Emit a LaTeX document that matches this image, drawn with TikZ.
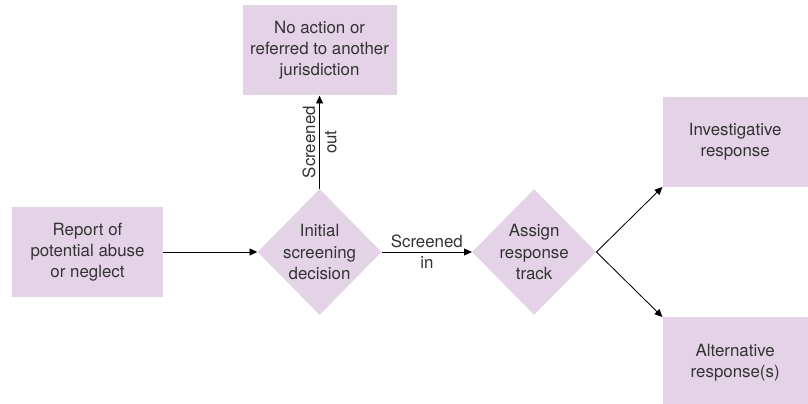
\documentclass[tikz,border=0pt]{standalone}
\usepackage{fontspec}
\setmainfont{TeX Gyre Heros}
\usetikzlibrary{positioning, shapes.geometric, arrows.meta}
\definecolor{boxlilac}{RGB}{228,210,231}
\tikzset{
  stepbox/.style={
    fill=boxlilac, minimum width=#1, minimum height=2.25cm,
    align=center, font=\fontsize{12}{15}\selectfont, text=black!80
  },
  stepbox/.default=3.8cm,
  decision/.style={
    diamond, fill=boxlilac, inner sep=0pt,
    minimum width=3.1cm, minimum height=3.15cm
  },
  dtext/.style={align=center, font=\fontsize{12}{15}\selectfont, text=black!80},
  arrow/.style={-{Triangle[length=5.5pt,width=5pt]}, line width=0.6pt},
  edgetext/.style={align=center, font=\fontsize{12}{15}\selectfont, text=black!80}
}

\begin{document}
\begin{tikzpicture}
\useasboundingbox (-2.1875,-3.8) rectangle (18.0125,6.3);

%% main row
\node[stepbox=3.775cm] (report) {Report of\\potential abuse\\or neglect};
\node[decision, right=2.35cm of report,
  label={[dtext]center:Initial\\screening\\decision}] (screen) {};
\node[decision, right=2.25cm of screen,
  label={[dtext]center:Assign\\response\\track}] (assign) {};

%% outcomes
\node[stepbox=3.85cm, above=2.325cm of screen] (noaction) {No action or\\referred to another\\jurisdiction};
\node[stepbox=3.625cm, above right=1.625cm and 1.65cm of assign.east] (invest) {Investigative\\response};
\node[stepbox=3.625cm, below right=1.625cm and 1.65cm of assign.east] (altern) {Alternative\\response(s)};

%% connectors
\draw[arrow] (report) -- (screen);
\draw[arrow] (screen) -- node[edgetext]{Screened\\in} (assign);
\draw[arrow] (screen) -- node[edgetext, rotate=90]{Screened\\out} (noaction);
\draw[arrow] (assign.east) -- (invest.south west);
\draw[arrow] (assign.east) -- (altern.north west);

\end{tikzpicture}
\end{document}
